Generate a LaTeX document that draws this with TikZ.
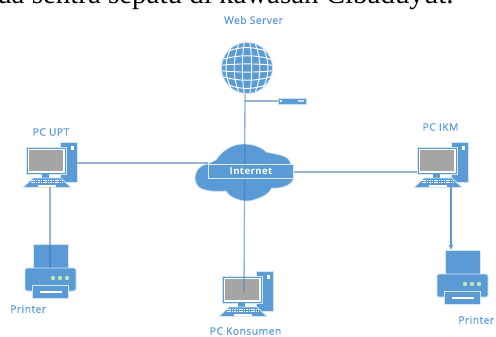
\documentclass[tikz,border=0pt]{standalone}
\usepackage{fontspec}
\setmainfont{Liberation Serif}
\newfontfamily\lblfont[LetterSpace=4,FakeBold=0.5]{Open Sans}
\newfontfamily\boxfont[LetterSpace=4]{Open Sans}
\usetikzlibrary{arrows.meta}
\definecolor{iconblue}{HTML}{5B9BD5}
\definecolor{wireblue}{HTML}{3F78B5}
\definecolor{labelblue}{HTML}{5B9BD5}
\definecolor{screengrey}{HTML}{A5A5A5}
\definecolor{ledgreen}{HTML}{C5E0B4}
\tikzset{
  lbl/.style={text=labelblue,font=\lblfont\fontsize{7.8}{9}\selectfont,inner sep=0pt},
  wire/.style={draw=wireblue,draw opacity=0.55,line width=1pt},
  wirearrow/.style={draw=iconblue,line width=0.8pt,-{Stealth[length=4pt,width=3.5pt]}},
  ico/.style={fill=iconblue,draw=white!75!iconblue,line width=0.6pt},
  anchorpt/.style={inner sep=0pt,minimum size=0pt},
  pics/pcicon/.style={code={
    \path[ico] (34,-5) rectangle (51,35);
    \path[fill=white] (45,-1) rectangle (48,3);
    \path[ico] (0,0) rectangle (40,27);
    \path[fill=white] (1.5,1.5) rectangle (38.5,25.5);
    \path[fill=screengrey] (3,3) rectangle (37,24);
    \path[fill=iconblue] (16,27) rectangle (23,31);
    \path[ico] (7,31) -- (35,31) -- (45,40.5) -- (-3,40.5) -- cycle;
    \foreach \yy in {33,35.5}{\draw[white,line width=0.7pt,dash pattern=on 1.2pt off 0.6pt] (5,\yy) -- (37,\yy);}
    \path[fill=white] (12,37.5) rectangle (30,39.5);
  }},
  pics/printericon/.style={code={
    \path[ico] (8,0) rectangle (43,24);
    \path[ico,rounded corners=1.5pt] (0,24) rectangle (51,47);
    \path[ico] (7.5,41) rectangle (43,54);
    \draw[white,line width=0.8pt] (15,48) -- (37,48);
    \foreach \xx in {28,35,42}{\path[fill=ledgreen] (\xx,34) circle (2.2);}
  }},
}
\begin{document}
\begin{tikzpicture}[x=0.75pt,y=-0.75pt]
\useasboundingbox (0,0) rectangle (496,336);
\path[clip] (0,0) rectangle (496,336);
\node[anchor=base west,inner sep=0pt,font=\fontsize{21.7}{24}\selectfont] (toptext) at (-3,3.5) {ua sentra sepatu di kawasan Cibaduyut.};

% anchors
\node[anchorpt] (globe) at (247,68) {};
\node[anchorpt] (server) at (278,101) {};
\coordinate (serverjoin) at (245,101);
\coordinate (globefoot) at (245,94);
\node[anchorpt] (cloudleft) at (208,163) {};
\node[anchorpt] (cloudright) at (294,172) {};
\node[anchorpt] (upttower) at (77,163) {};
\node[anchorpt] (uptkb) at (50,187) {};
\node[anchorpt] (uptprint) at (50,268) {};
\node[anchorpt] (ikmscreen) at (417,172) {};
\node[anchorpt] (ikmkb) at (451,187) {};
\node[anchorpt] (ikmprint) at (451,250) {};
\node[anchorpt] (konsscreen) at (244,293) {};

% icons below wires
\pic at (26,147) {pcicon};
\pic at (417,147) {pcicon};
\pic at (222,276) {pcicon};
\pic at (25,244) {printericon};
\pic at (437,250) {printericon};

% globe
\path[fill=white!70!iconblue] (globe) circle (26);
\begin{scope}
\path[clip] (globe) circle (25);
\path[fill=iconblue] (globe) circle (25);
\foreach \dy in {4,12,20}{
  \draw[white,line width=0.7pt] (220,68+\dy-1.5*\dy/4) .. controls (235,68+\dy+0.15*\dy) and (259,68+\dy+0.15*\dy) .. (274,68+\dy-1.5*\dy/4);
  \draw[white,line width=0.7pt] (220,68-\dy+1.5*\dy/4) .. controls (235,68-\dy-0.15*\dy) and (259,68-\dy-0.15*\dy) .. (274,68-\dy+1.5*\dy/4);
}
\foreach \dx in {4,11,18}{
  \draw[white,line width=0.7pt] (247+0.6*\dx,41) .. controls (247+1.35*\dx,55) and (247+1.35*\dx,81) .. (247+0.6*\dx,95);
  \draw[white,line width=0.7pt] (247-0.6*\dx,41) .. controls (247-1.35*\dx,55) and (247-1.35*\dx,81) .. (247-0.6*\dx,95);
}
\end{scope}

% cloud
\path[fill=iconblue,draw=white!70!iconblue,line width=0.5pt] (208,164)
  .. controls (197,165) and (193,176) .. (196,183)
  .. controls (199,191) and (212,192) .. (226,191)
  .. controls (230,199) and (247,204) .. (256,199)
  .. controls (264,197) and (269,193) .. (272,188)
  .. controls (283,189) and (295,184) .. (294,175)
  .. controls (293,168) and (291,164) .. (289,160)
  .. controls (286,155) and (274,154) .. (266,152)
  .. controls (262,147) and (252,144) .. (243,144)
  .. controls (231,144) and (220,153) .. (216,160)
  .. controls (213,161) and (210,163) .. (208,164) -- cycle;

% wires
\draw[wire] (globefoot) -- (konsscreen);
\draw[wire,line width=0.8pt] (serverjoin) -- (server);
\draw[wire] (upttower) -- (cloudleft);
\draw[wire] (cloudright) -- (ikmscreen);
\draw[wire] (uptkb) -- (uptprint);
\draw[wirearrow] (ikmkb) -- (ikmprint);

% server
\path[fill=iconblue,draw=white!70!iconblue,line width=0.5pt] (server) ++(0,-3) rectangle ++(28,6);
\path[fill=white] (280,100) rectangle (281.5,102);
\path[fill=white!70!iconblue] (298,100) rectangle (304,102);

% Internet box
\node[draw=white!80!iconblue,fill=iconblue,line width=0.7pt,minimum width=63.5pt,minimum height=10.5pt,inner sep=0pt,text=white,font=\boxfont\bfseries\fontsize{7.2}{8}\selectfont] (internet) at (251,171) {Internet};

% labels
\node[lbl] (lweb) at (253.5,20) {Web Server};
\node[lbl] (lupt) at (51,132) {PC UPT};
\node[lbl] (likm) at (440.5,127) {PC IKM};
\node[lbl,anchor=west] (lpr1) at (10,309) {Printer};
\node[lbl,anchor=west] (lpr2) at (458,320) {Printer};
\node[lbl] (lkons) at (245.5,331) {PC Konsumen};
\end{tikzpicture}
\end{document}
